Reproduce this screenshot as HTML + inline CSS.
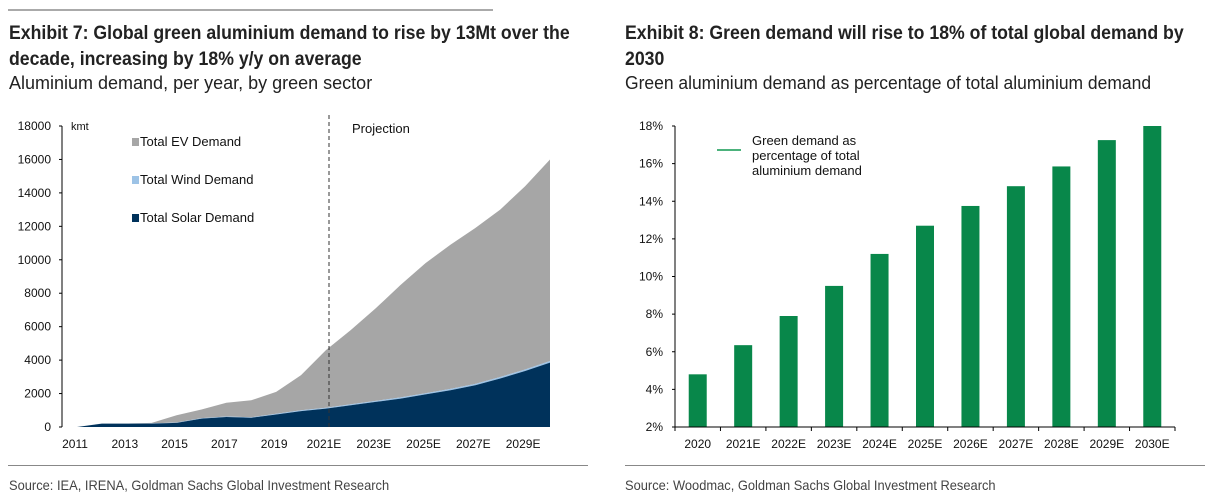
<!DOCTYPE html>
<html><head><meta charset="utf-8"><style>
body{margin:0;background:#fff;width:1209px;height:499px;overflow:hidden;font-family:"Liberation Sans",sans-serif;}
.t{position:absolute;color:#222;white-space:nowrap;transform-origin:0 0;}
</style></head><body>
<div style="position:absolute;left:8px;top:9px;width:485px;height:2px;background:#aaa"></div>
<div class="t" style="left:9px;top:21px;font-size:19px;font-weight:bold;line-height:26px;transform:scaleX(0.93)">Exhibit 7: Global green aluminium demand to rise by 13Mt over the<br>decade, increasing by 18% y/y on average</div>
<div class="t" style="left:9px;top:73px;font-size:18px">Aluminium demand, per year, by green sector</div>
<div class="t" style="left:625px;top:21px;font-size:19px;font-weight:bold;line-height:26px;transform:scaleX(0.93)">Exhibit 8: Green demand will rise to 18% of total global demand by<br>2030</div>
<div class="t" style="left:625px;top:73px;font-size:18px;transform:scaleX(0.97)">Green aluminium demand as percentage of total aluminium demand</div>
<div style="position:absolute;left:8px;top:465px;width:580px;height:1px;background:#888"></div>
<div style="position:absolute;left:625px;top:465px;width:580px;height:1px;background:#888"></div>
<div class="t" style="left:9px;top:477px;font-size:14px;color:#444;transform:scaleX(0.92)">Source: IEA, IRENA, Goldman Sachs Global Investment Research</div>
<div class="t" style="left:625px;top:477px;font-size:14px;color:#444;transform:scaleX(0.92)">Source: Woodmac, Goldman Sachs Global Investment Research</div>
<svg id="c" width="1209" height="499" style="position:absolute;left:0;top:0" font-family="Liberation Sans, sans-serif"></svg>
<script>
const years=[2011,2012,2013,2014,2015,2016,2017,2018,2019,2020,2021,2022,2023,2024,2025,2026,2027,2028,2029,2030];
const xLabels=["2011","2013","2015","2017","2019","2021E","2023E","2025E","2027E","2029E"];
const solar=[0,200,200,200,250,500,600,550,750,950,1100,1300,1500,1700,1950,2200,2500,2900,3350,3850];
const wind=[0,10,10,15,20,30,30,30,40,50,50,60,60,70,70,80,80,90,90,100];
const ev=[0,0,0,35,430,520,820,1020,1310,2100,3450,4440,5540,6730,7780,8620,9320,10010,10960,12050];
const yTicks=[0,2000,4000,6000,8000,10000,12000,14000,16000,18000];
const cats=["2020","2021E","2022E","2023E","2024E","2025E","2026E","2027E","2028E","2029E","2030E"];
const pct=[4.8,6.35,7.9,9.5,11.2,12.7,13.75,14.8,15.85,17.25,18.0];
const pTicks=[2,4,6,8,10,12,14,16,18];
const svg=document.getElementById('c');const NS='http://www.w3.org/2000/svg';
function el(t,a,txt){const e=document.createElementNS(NS,t);for(const k in a)e.setAttribute(k,a[k]);if(txt!=null)e.textContent=txt;svg.appendChild(e);return e;}
// left chart
const X=i=>77+i*(550-77)/(years.length-1);
const Y=v=>427-v*(427-126)/18000;
function area(lo,hi,fill,name){let d='M'+X(0)+','+Y(hi[0]);for(let i=1;i<years.length;i++)d+='L'+X(i)+','+Y(hi[i]);for(let i=years.length-1;i>=0;i--)d+='L'+X(i)+','+Y(lo[i]);const p=el('path',{d:d+'Z',fill:fill});}
const c1=solar,c2=solar.map((v,i)=>v+wind[i]),c3=c2.map((v,i)=>v+ev[i]);
area(c2,c3,'#a6a6a6','ev-area');area(c1,c2,'#9dc3e6','wind-area');area(solar.map(()=>0),c1,'#00325b','solar-area');
let a=el('line',{x1:62,y1:126,x2:62,y2:427,stroke:'#000'});
yTicks.forEach(v=>{el('line',{x1:59,x2:62,y1:Y(v),y2:Y(v),stroke:'#000'});const t=el('text',{x:51,y:Y(v)+4,'font-size':12,'text-anchor':'end',fill:'#111'},v);});
xLabels.forEach((l,i)=>{const t=el('text',{x:X(i*2)-2,y:448,'font-size':12,'text-anchor':'middle',fill:'#111'},l);});
let u=el('text',{x:71,y:130,'font-size':11,fill:'#111'},'kmt');
let dl=el('line',{x1:329,x2:329,y1:115,y2:427,stroke:'#333','stroke-dasharray':'4,3'});
let pj=el('text',{x:352,y:133,'font-size':13,fill:'#111'},'Projection');
[['Total EV Demand','#a6a6a6',146],['Total Wind Demand','#9dc3e6',184],['Total Solar Demand','#00325b',222]].forEach(([n,c,y])=>{const r=el('rect',{x:132,y:y-8,width:7,height:8,fill:c});const t=el('text',{x:140,y:y,'font-size':13,fill:'#111'},n);});
// right chart
const bw=(1175-675)/cats.length;
const PY=v=>427-(v-2)*(427-126)/16;
pTicks.forEach(v=>{el('line',{x1:672,x2:675,y1:PY(v),y2:PY(v),stroke:'#000'});const t=el('text',{x:663,y:PY(v)+4,'font-size':12,'text-anchor':'end',fill:'#111'},v+'%');});
pct.forEach((v,i)=>{const r=el('rect',{x:675+i*bw+bw/2-9,y:PY(v),width:18,height:427-PY(v),fill:'#08874a'});});
cats.forEach((l,i)=>{el('line',{x1:675+i*bw,x2:675+i*bw,y1:427,y2:431,stroke:'#000'});const t=el('text',{x:675+i*bw+bw/2,y:448,'font-size':12,'text-anchor':'middle',fill:'#111'},l);});
el('line',{x1:1175,x2:1175,y1:427,y2:431,stroke:'#000'});
let ry=el('line',{x1:675,y1:126,x2:675,y2:427,stroke:'#000'});
let rx=el('line',{x1:675,y1:427,x2:1175,y2:427,stroke:'#000'});
let ll=el('line',{x1:717,x2:741,y1:150,y2:150,stroke:'#4cb27c','stroke-width':2});
['Green demand as','percentage of total','aluminium  demand'].forEach((s,i)=>{const t=el('text',{x:752,y:145+i*15,'font-size':13,fill:'#111'},s);});
</script>
</body></html>
